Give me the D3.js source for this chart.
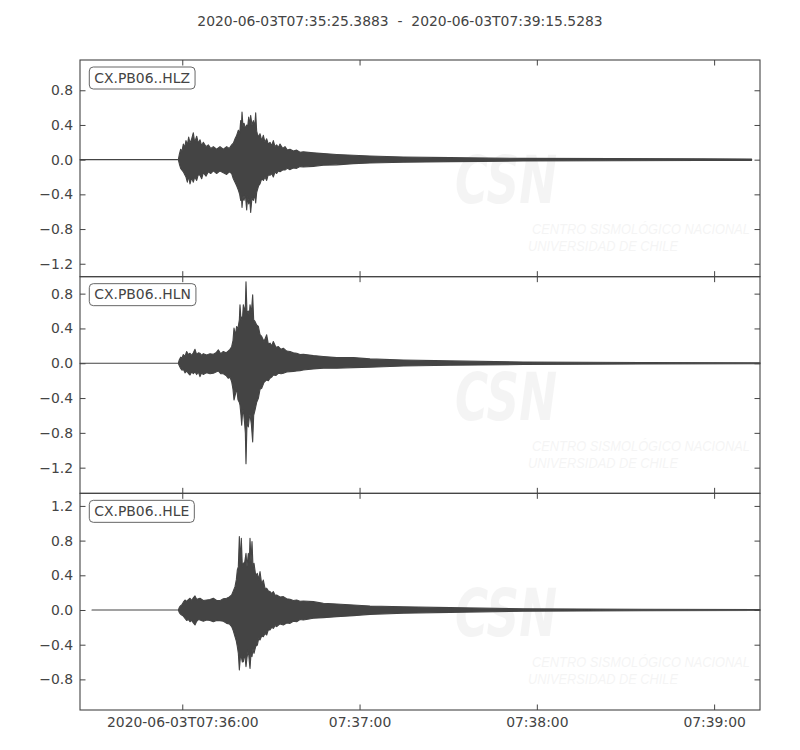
<!DOCTYPE html>
<html><head><meta charset="utf-8">
<script src="https://cdn.jsdelivr.net/npm/d3@7"></script>
<style>
body{margin:0;background:#fff}
text{font-family:"DejaVu Sans",sans-serif}
</style>
</head><body>
<svg id="chart" width="800" height="750"></svg>
<script>
// ---------------- data ----------------
const titleText = "2020-06-03T07:35:25.3883  -  2020-06-03T07:39:15.5283";
const startClock = [7, 35, 25.3883];
const endClock = [7, 39, 15.5283];
const xTickLabels = ["2020-06-03T07:36:00", "07:37:00", "07:38:00", "07:39:00"];
const xTickClock = ["07:36:00", "07:37:00", "07:38:00", "07:39:00"];
const channels = ["CX.PB06..HLZ", "CX.PB06..HLN", "CX.PB06..HLE"];

const hlzYTicks = [0.8, 0.4, 0.0, -0.4, -0.8, -1.2];
const hlnYTicks = [0.8, 0.4, 0.0, -0.4, -0.8, -1.2];
const hleYTicks = [1.2, 0.8, 0.4, 0.0, -0.4, -0.8];
const hlzYDomain = [-1.349, 1.149];
const hlnYDomain = [-1.495, 0.995];
const hleYDomain = [-1.153, 1.345];

// envelope rows of each trace: [seconds after start, upper amplitude, lower amplitude]
const hlzEnvelope = [
  [0, 0, 0], [33.28, 0, 0], [33.62, 0.06, -0.05], [34.07, 0.12, -0.10], [34.52, 0.10, -0.12],
  [34.97, 0.18, -0.14], [35.42, 0.14, -0.17], [35.87, 0.22, -0.20], [36.33, 0.17, -0.26],
  [36.78, 0.26, -0.19], [37.23, 0.19, -0.28], [37.79, 0.24, -0.21], [38.36, 0.31, -0.26],
  [38.81, 0.20, -0.20], [39.49, 0.27, -0.24], [40.05, 0.19, -0.17], [40.61, 0.23, -0.18],
  [41.18, 0.16, -0.22], [41.74, 0.20, -0.15], [42.64, 0.15, -0.19], [43.43, 0.17, -0.14],
  [44.23, 0.13, -0.16], [45.13, 0.15, -0.13], [46.25, 0.12, -0.16], [47.38, 0.15, -0.13],
  [48.51, 0.12, -0.15], [49.64, 0.15, -0.17], [50.54, 0.13, -0.14], [51.33, 0.17, -0.16],
  [51.89, 0.19, -0.22], [52.46, 0.24, -0.26], [53.02, 0.28, -0.30], [53.59, 0.34, -0.35],
  [54.04, 0.30, -0.40], [54.38, 0.45, -0.47], [54.60, 0.35, -0.38], [54.83, 0.55, -0.55],
  [55.17, 0.38, -0.42], [55.51, 0.42, -0.47], [55.96, 0.36, -0.40], [56.41, 0.40, -0.58],
  [56.75, 0.38, -0.42], [57.09, 0.49, -0.51], [57.42, 0.40, -0.45], [57.76, 0.51, -0.61],
  [58.21, 0.40, -0.44], [58.67, 0.45, -0.47], [59.12, 0.38, -0.40], [59.46, 0.54, -0.50],
  [59.79, 0.33, -0.38], [60.02, 0.30, -0.35], [60.47, 0.26, -0.30], [60.92, 0.30, -0.28],
  [61.49, 0.22, -0.22], [62.05, 0.28, -0.24], [62.61, 0.20, -0.20], [63.18, 0.24, -0.24],
  [63.74, 0.18, -0.17], [64.31, 0.20, -0.18], [64.87, 0.16, -0.16], [65.43, 0.22, -0.20],
  [66.00, 0.15, -0.14], [66.56, 0.17, -0.16], [67.13, 0.14, -0.13], [67.69, 0.18, -0.14],
  [68.59, 0.13, -0.12], [69.38, 0.15, -0.12], [70.17, 0.11, -0.10], [71.08, 0.12, -0.115],
  [72.20, 0.10, -0.095], [73.33, 0.11, -0.10], [74.46, 0.085, -0.08], [75.59, 0.09, -0.085],
  [78.97, 0.08, -0.077], [82.36, 0.07, -0.065], [86.87, 0.06, -0.06], [92.51, 0.05, -0.046],
  [98.15, 0.042, -0.038], [109.43, 0.03, -0.03], [125.23, 0.023, -0.023], [150, 0.015, -0.015],
  [180, 0.012, -0.012], [210, 0.01, -0.01], [227.3, 0.008, -0.008]
];

const hlnEnvelope = [
  [0, 0, 0], [33.28, 0, 0], [33.62, 0.04, -0.03], [34.07, 0.07, -0.06], [34.52, 0.06, -0.08],
  [34.97, 0.10, -0.07], [35.54, 0.08, -0.11], [36.10, 0.135, -0.09], [36.66, 0.10, -0.115],
  [37.23, 0.115, -0.135], [37.79, 0.09, -0.10], [38.36, 0.12, -0.12], [38.92, 0.16, -0.10],
  [39.49, 0.10, -0.13], [40.05, 0.12, -0.10], [40.61, 0.115, -0.154], [41.18, 0.09, -0.11],
  [41.74, 0.11, -0.13], [42.87, 0.096, -0.108], [44.00, 0.11, -0.12], [45.13, 0.104, -0.115],
  [46.03, 0.12, -0.10], [46.82, 0.154, -0.088], [47.61, 0.11, -0.12], [48.51, 0.135, -0.12],
  [49.41, 0.12, -0.14], [50.20, 0.142, -0.173], [50.77, 0.16, -0.16], [51.33, 0.19, -0.212],
  [51.78, 0.26, -0.30], [52.12, 0.404, -0.423], [52.57, 0.32, -0.36], [53.02, 0.423, -0.288],
  [53.47, 0.40, -0.42], [53.93, 0.50, -0.45], [54.15, 0.673, -0.481], [54.49, 0.50, -0.60],
  [54.72, 0.519, -0.712], [55.06, 0.55, -0.55], [55.28, 0.673, -0.538], [55.73, 0.60, -0.70],
  [55.96, 0.65, -0.80], [56.18, 0.935, -1.154], [56.52, 0.58, -0.68], [56.97, 0.60, -0.731],
  [57.31, 0.55, -0.62], [57.54, 0.673, -0.596], [57.99, 0.58, -0.70], [58.44, 0.788, -0.904],
  [58.78, 0.50, -0.60], [59.23, 0.481, -0.538], [59.79, 0.44, -0.45], [60.36, 0.423, -0.404],
  [60.92, 0.33, -0.30], [61.49, 0.308, -0.288], [62.28, 0.25, -0.22], [63.18, 0.327, -0.192],
  [63.74, 0.22, -0.20], [64.31, 0.231, -0.173], [64.87, 0.20, -0.16], [65.43, 0.25, -0.135],
  [66.34, 0.18, -0.14], [67.13, 0.192, -0.115], [68.03, 0.16, -0.12], [68.82, 0.173, -0.115],
  [69.95, 0.14, -0.10], [71.08, 0.135, -0.096], [72.20, 0.12, -0.095], [73.33, 0.115, -0.088],
  [74.46, 0.10, -0.085], [75.59, 0.104, -0.077], [78.97, 0.088, -0.065], [82.36, 0.077, -0.058],
  [86.87, 0.065, -0.058], [92.51, 0.065, -0.05], [98.15, 0.05, -0.046], [109.43, 0.038, -0.031],
  [125.23, 0.027, -0.023], [150, 0.015, -0.015], [190, 0.009, -0.009], [230.14, 0.006, -0.006]
];

const hleEnvelope = [
  [4.06, 0, 0], [33.28, 0, 0], [33.62, 0.03, -0.03], [34.07, 0.05, -0.05], [34.41, 0.058, -0.058],
  [34.97, 0.09, -0.07], [35.54, 0.115, -0.096], [36.10, 0.10, -0.12], [36.66, 0.12, -0.11],
  [37.23, 0.135, -0.135], [37.79, 0.11, -0.12], [38.36, 0.14, -0.15], [38.92, 0.162, -0.173],
  [39.49, 0.12, -0.13], [40.05, 0.13, -0.11], [40.61, 0.135, -0.115], [41.74, 0.11, -0.13],
  [42.87, 0.115, -0.115], [44.00, 0.12, -0.12], [45.13, 0.135, -0.135], [46.25, 0.11, -0.12],
  [47.38, 0.108, -0.123], [48.51, 0.13, -0.13], [49.64, 0.135, -0.154], [50.54, 0.15, -0.16],
  [51.33, 0.173, -0.192], [51.89, 0.22, -0.24], [52.46, 0.269, -0.308], [52.91, 0.35, -0.36],
  [53.25, 0.462, -0.423], [53.59, 0.50, -0.50], [53.93, 0.846, -0.692], [54.26, 0.55, -0.55],
  [54.60, 0.827, -0.538], [54.94, 0.50, -0.60], [55.28, 0.538, -0.596], [55.73, 0.55, -0.50],
  [56.18, 0.654, -0.654], [56.52, 0.50, -0.55], [56.97, 0.654, -0.462], [57.31, 0.55, -0.60],
  [57.54, 0.827, -0.673], [57.88, 0.55, -0.50], [58.21, 0.788, -0.538], [58.55, 0.50, -0.45],
  [58.89, 0.538, -0.50], [59.46, 0.40, -0.42], [60.02, 0.423, -0.404], [60.47, 0.35, -0.33],
  [60.92, 0.442, -0.346], [61.49, 0.30, -0.30], [62.05, 0.346, -0.308], [62.61, 0.25, -0.27],
  [63.18, 0.25, -0.288], [63.74, 0.22, -0.23], [64.31, 0.212, -0.231], [64.87, 0.19, -0.20],
  [65.43, 0.212, -0.212], [66.00, 0.17, -0.18], [66.56, 0.173, -0.192], [67.69, 0.15, -0.16],
  [68.82, 0.154, -0.173], [69.95, 0.13, -0.15], [71.08, 0.123, -0.154], [72.20, 0.11, -0.13],
  [73.33, 0.115, -0.135], [74.46, 0.10, -0.11], [75.59, 0.104, -0.115], [78.97, 0.096, -0.096],
  [82.36, 0.077, -0.088], [86.87, 0.069, -0.077], [92.51, 0.058, -0.065], [98.15, 0.046, -0.05],
  [109.43, 0.038, -0.038], [125.23, 0.027, -0.027], [150, 0.015, -0.015], [190, 0.009, -0.009],
  [230.14, 0.006, -0.006]
];

const watermarkLines = ["CSN", "CENTRO SISMOLÓGICO NACIONAL", "UNIVERSIDAD DE CHILE"];

// ---------------- layout ----------------
const X0 = 80, X1 = 760, YTOP = 60, YBOT = 710;
const PH = (YBOT - YTOP) / 3;
const INK = "#444";
const FS = "13.9px";

const toSec = c => c[0] * 3600 + c[1] * 60 + c[2];
const t0 = toSec(startClock), t1 = toSec(endClock);
const xTickSecs = xTickClock.map(s => toSec(s.split(":").map(Number)) - t0);

const svg = d3.select("#chart");
const x = d3.scaleLinear().domain([0, t1 - t0]).range([X0, X1]);

svg.append("text").attr("x", 400).attr("y", 26).attr("text-anchor", "middle")
  .attr("xml:space", "preserve").style("white-space", "pre")
  .attr("font-size", FS).attr("fill", INK).text(titleText);

const panels = [
  {name: channels[0], env: hlzEnvelope, dom: hlzYDomain, ticks: hlzYTicks},
  {name: channels[1], env: hlnEnvelope, dom: hlnYDomain, ticks: hlnYTicks},
  {name: channels[2], env: hleEnvelope, dom: hleYDomain, ticks: hleYTicks}
];

const fmt = d3.format(".1f");

panels.forEach((p, i) => {
  const top = YTOP + i * PH, bot = top + PH;
  const y = d3.scaleLinear().domain(p.dom).range([bot, top]);
  const g = svg.append("g");

  // watermark
  const wm = g.append("g").attr("fill", "#000").attr("opacity", 0.04);
  wm.append("text").attr("x", 455).attr("y", top + 143).attr("font-size", 66)
    .attr("font-weight", "bold").attr("font-style", "italic")
    .attr("textLength", 102).attr("lengthAdjust", "spacingAndGlyphs").text(watermarkLines[0]);
  wm.append("text").attr("x", 532).attr("y", top + 174).attr("font-size", 14)
    .attr("font-style", "italic").style("font-family", "'Liberation Sans Narrow','Liberation Sans',sans-serif")
    .attr("textLength", 218).attr("lengthAdjust", "spacingAndGlyphs").text(watermarkLines[1]);
  wm.append("text").attr("x", 528).attr("y", top + 191).attr("font-size", 14)
    .attr("font-style", "italic").style("font-family", "'Liberation Sans Narrow','Liberation Sans',sans-serif")
    .attr("textLength", 150).attr("lengthAdjust", "spacingAndGlyphs").text(watermarkLines[2]);

  // trace
  const area = d3.area().x(d => x(d[0])).y0(d => y(d[2])).y1(d => y(d[1]));
  g.append("path").attr("d", area(p.env)).attr("fill", INK)
    .attr("stroke", INK).attr("stroke-width", 1.1).attr("stroke-linejoin", "round");

  // axes
  const styleAxis = sel => {
    sel.select(".domain").remove();
    sel.selectAll(".tick line").attr("stroke", INK).attr("stroke-width", 1);
    sel.selectAll(".tick text").attr("fill", INK).attr("font-size", FS)
      .style("font-family", "'DejaVu Sans',sans-serif");
  };
  g.append("g").attr("transform", `translate(${X0},0)`)
    .call(d3.axisLeft(y).tickValues(p.ticks).tickSize(-5.5).tickPadding(7).tickFormat(fmt)).call(styleAxis);
  g.append("g").attr("transform", `translate(${X1},0)`)
    .call(d3.axisRight(y).tickValues(p.ticks).tickSize(-5.5).tickFormat("")).call(styleAxis);
  g.append("g").attr("transform", `translate(0,${top})`)
    .call(d3.axisTop(x).tickValues(xTickSecs).tickSize(-5.5).tickFormat("")).call(styleAxis);
  const bAxis = d3.axisBottom(x).tickValues(xTickSecs).tickSize(-5.5).tickPadding(7)
    .tickFormat((d, k) => i === 2 ? xTickLabels[k] : "");
  g.append("g").attr("transform", `translate(0,${bot})`).call(bAxis).call(styleAxis);

  // frame
  g.append("rect").attr("x", X0).attr("y", top).attr("width", X1 - X0).attr("height", PH)
    .attr("fill", "none").attr("stroke", INK).attr("stroke-width", 1.1);

  // label box
  const lab = g.append("g");
  const txt = lab.append("text").attr("x", 94.3).attr("y", top + 22.5)
    .attr("font-size", FS).attr("fill", INK).text(p.name);
  const bb = txt.node().getBBox();
  lab.insert("rect", "text").attr("x", bb.x - 5).attr("y", top + 7)
    .attr("width", bb.width + 10).attr("height", 22).attr("rx", 4).attr("ry", 4)
    .attr("fill", "#fff").attr("stroke", "#666").attr("stroke-width", 1);
});
</script>
</body></html>
